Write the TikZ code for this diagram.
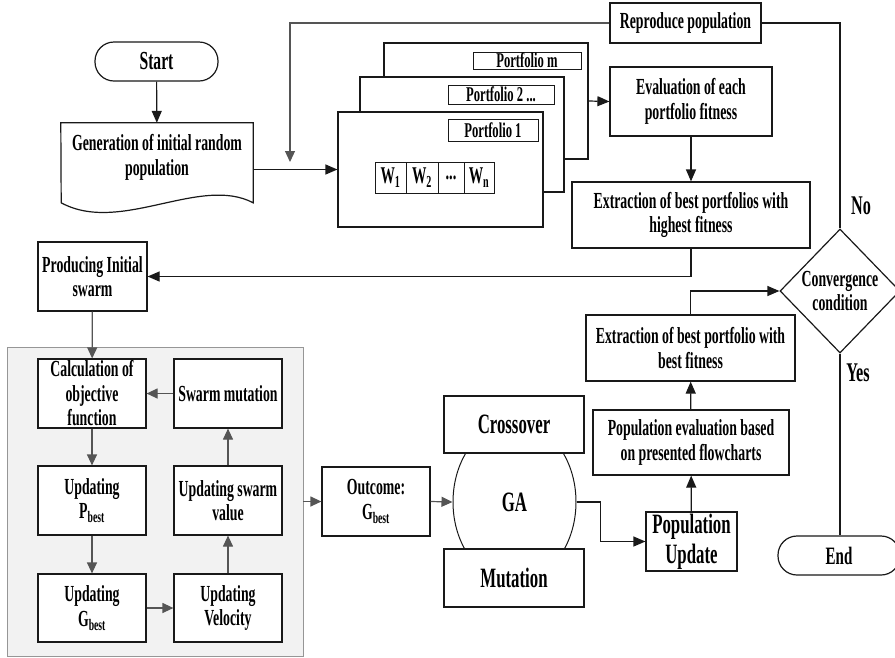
\documentclass[tikz,border=0pt]{standalone}
\usepackage{fontspec}
\setmainfont{Liberation Serif}[FakeStretch=0.6]
\usetikzlibrary{arrows.meta,shapes.geometric}
\definecolor{ink}{RGB}{25,25,25}
\definecolor{pale}{RGB}{242,242,242}
\definecolor{greyink}{RGB}{85,85,85}
\definecolor{rim}{RGB}{150,150,150}
\newcommand{\bestsub}[1]{#1\textsubscript{best}}

\begin{document}
\begin{tikzpicture}[x=1pt,y=-1pt,
  sz/.style 2 args={minimum width=#1pt,minimum height=#2pt},
  box/.style={draw=ink,line width=1.2pt,fill=white,inner sep=1pt,align=center,
    font=\fontsize{23}{24.5}\selectfont\bfseries},
  tag/.style={draw=ink,line width=0.8pt,fill=white,inner sep=0pt,
    font=\fontsize{21}{22}\selectfont\bfseries},
  pill/.style={box,rounded corners=19pt},
  big/.style={font=\fontsize{28}{30}\selectfont\bfseries},
  flow/.style={draw=ink,line width=1.2pt,-{Triangle[length=12pt,width=10pt]}},
  gflow/.style={draw=greyink,line width=1.2pt,-{Triangle[length=11pt,width=10pt]}},
  plain/.style={draw=ink,line width=1.2pt},
  note/.style={font=\fontsize{27}{28}\selectfont\bfseries}]
  \useasboundingbox (0,0) rectangle (895,657);

  % top row
  \node[pill,sz={123}{39},font=\fontsize{26}{28}\selectfont\bfseries] (start) at (156.5,61.5) {Start};
  \node[align=center,sz={192}{69},inner sep=0pt,font=\fontsize{23}{25}\selectfont\bfseries] (gen) at (157,157.5)
    {Generation of initial random\\population};
  \draw[plain] (gen.north west) -- (gen.north east) -- ++(0,80)
    .. controls +(-53,-28) and +(59,32) .. ++(-192,0) -- cycle;
  \draw[flow] (start) -- (gen);

  % stack of portfolios
  \node[box,sz={204}{116}] (pm) at (486,101) {};
  \node[tag,sz={108}{17}] (tagm) at (527,60.5) {Portfolio m};
  \node[box,sz={204}{115}] (p2) at (462,134.5) {};
  \node[tag,sz={106}{19}] (tag2) at (501,94.5) {Portfolio 2 ...};
  \node[box,sz={205}{115}] (p1) at (440.5,169.5) {};
  \node[tag,sz={90}{22}] (tag1) at (493,130) {Portfolio 1};
  \foreach \n/\x/\w/\t in {1/390.5/31/{W\textsubscript{1}},2/422/32/{W\textsubscript{2}},
      3/451/26/{...},4/479/30/{W\textsubscript{n}}}
    \node[tag,sz={\w}{31},font=\fontsize{24}{26}\selectfont\bfseries] (w\n) at (\x,177.5) {\t};
  \draw[flow] (gen.east |- p1.west) -- (p1.west);

  \node[box,sz={151}{40}] (rep) at (685.5,23) {Reproduce population};
  \node[box,sz={162}{69}] (eval) at (691,101.5) {Evaluation of each\\portfolio fitness};
  \node[box,sz={238}{66}] (ext) at (691,215) {Extraction of best portfolios with\\highest fitness};
  \coordinate (back) at (290,162);
  \draw[gflow] (rep.west) -| (back);
  \draw[flow] (pm.east) -- (eval.west);
  \draw[flow] (eval) -- (ext);

  % swarm part
  \node[box,sz={109}{69}] (prod) at (92.5,276.5) {Producing Initial\\swarm};
  \draw[flow] (ext.south) |- (prod.east);
  \node[draw=rim,line width=0.8pt,fill=pale,sz={296}{309}] (panel) at (155,501.5) {};
  \node[box,sz={108}{69}] (calc) at (92,393.5) {Calculation of\\objective\\function};
  \node[box,sz={108}{69}] (smut) at (228,393.5) {Swarm mutation};
  \node[box,sz={108}{69}] (pbest) at (92,500.5) {Updating\\\bestsub{P}};
  \node[box,sz={108}{69}] (sval) at (228,500.5) {Updating swarm\\value};
  \node[box,sz={108}{68}] (gbest) at (92,608) {Updating\\\bestsub{G}};
  \node[box,sz={108}{68}] (vel) at (228,608) {Updating\\Velocity};
  \draw[gflow] (prod) -- (calc);
  \draw[gflow] (calc) -- (pbest);
  \draw[gflow] (pbest) -- (gbest);
  \draw[gflow] (gbest) -- (vel);
  \draw[gflow] (vel) -- (sval);
  \draw[gflow] (sval) -- (smut);
  \draw[gflow] (smut) -- (calc);

  % GA part
  \node[box,sz={108}{69}] (outc) at (376,501.5) {Outcome:\\\bestsub{G}};
  \draw[gflow] (panel.east) -- (outc.west);
  \node[ellipse,draw=ink,line width=1pt,sz={123}{160},inner sep=0pt,big] (ga) at (514.5,502) {GA};
  \node[box,sz={140}{57},big] (cross) at (514,424.5) {Crossover};
  \node[box,sz={140}{58},big] (mut) at (514,578) {Mutation};
  \draw[gflow] (outc.east) -- (ga.west);

  \node[box,sz={91}{59},big] (popup) at (691.5,541.5) {Population\\Update};
  \node[box,sz={196}{65}] (popeval) at (691,442.5) {Population evaluation based\\on presented flowcharts};
  \node[box,sz={209}{66}] (bestfit) at (690.5,348) {Extraction of best portfolio with\\best fitness};
  \draw[flow] (ga.east) -- ++(24,0) |- (popup.west);
  \draw[flow] (popup) -- (popeval);
  \draw[flow] (popeval) -- (bestfit);

  % convergence test
  \node[diamond,draw=ink,line width=1.2pt,fill=white,sz={120}{124},inner sep=0pt,align=center,
    font=\fontsize{23}{24.5}\selectfont\bfseries] (cond) at (840,291) {Convergence\\condition};
  \node[pill,sz={122}{39},font=\fontsize{25}{26}\selectfont\bfseries] (finish) at (839,555.5) {End};
  \draw[flow] (bestfit.north) |- (cond.west);
  \draw[plain] (rep.east) -| (cond.north);
  \draw[plain] (cond.south) -- (finish.north -| cond.south);
  \node[note] (lblno) at (861,206) {No};
  \node[note] (lblyes) at (858,373) {Yes};
\end{tikzpicture}
\end{document}
